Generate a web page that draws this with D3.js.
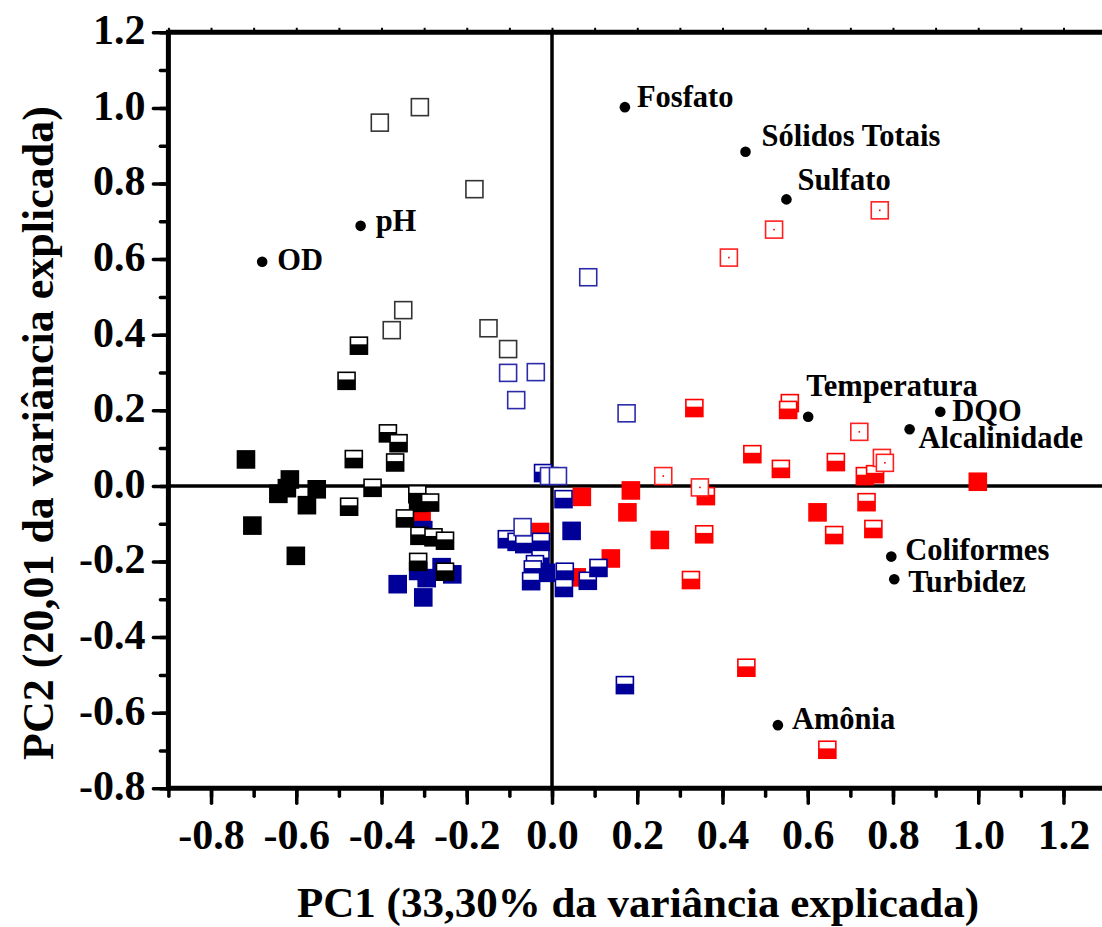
<!DOCTYPE html>
<html>
<head>
<meta charset="utf-8">
<script src="https://cdn.jsdelivr.net/npm/d3@7"></script>
<style>
  body { margin: 0; background: #fff; }
  text { font-family: "Liberation Serif", "Times New Roman", serif; font-weight: bold; fill: #000; }
</style>
</head>
<body>
<div id="chart"></div>
<script>
// tick values
const xMajor = [-0.8, -0.6, -0.4, -0.2, 0.0, 0.2, 0.4, 0.6, 0.8, 1.0, 1.2];
const yMajor = [-0.8, -0.6, -0.4, -0.2, 0.0, 0.2, 0.4, 0.6, 0.8, 1.0, 1.2];

// variable loadings
const variables = ["OD", "pH", "Fosfato", "Sólidos Totais", "Sulfato", "Temperatura",
                   "DQO", "Alcalinidade", "Coliformes", "Turbidez", "Amônia"];
const varPC1 = [-0.680, -0.449, 0.171, 0.454, 0.550, 0.601, 0.911, 0.839, 0.796, 0.803, 0.530];
const varPC2 = [0.593, 0.688, 1.002, 0.884, 0.758, 0.183, 0.196, 0.150, -0.187, -0.247, -0.633];

// sample scores [PC1, PC2]
const redFilled = [[-0.306, -0.072], [-0.028, -0.122], [0.058, -0.242], [0.070, -0.029], [0.185, -0.012],
  [0.177, -0.070], [0.253, -0.143], [0.138, -0.192], [0.623, -0.070], [0.999, 0.011]];
const redHalf = [[0.334, 0.206], [0.558, 0.219], [0.554, 0.201], [0.470, 0.084], [0.537, 0.045],
  [0.666, 0.063], [0.734, 0.026], [0.758, 0.031], [0.361, -0.027], [0.738, -0.043], [0.357, -0.128],
  [0.662, -0.130], [0.754, -0.114], [0.326, -0.249], [0.456, -0.481], [0.646, -0.698]];
const redOpen = [[0.415, 0.604], [0.521, 0.678], [0.769, 0.729], [0.261, 0.026], [0.347, -0.004],
  [0.721, 0.143], [0.774, 0.074], [0.781, 0.061]];
const blueFilled = [[-0.362, -0.260], [-0.302, -0.295], [-0.294, -0.244], [-0.314, -0.225], [-0.259, -0.215],
  [-0.234, -0.234], [-0.302, -0.117], [0.046, -0.119], [-0.014, -0.230]];
const blueHalf = [[-0.021, 0.034], [0.027, -0.035], [-0.106, -0.141], [-0.083, -0.148], [-0.065, -0.154],
  [-0.026, -0.148], [-0.027, -0.193], [-0.040, -0.207], [-0.045, -0.221], [-0.049, -0.252], [0.030, -0.227],
  [0.028, -0.270], [0.084, -0.251], [0.109, -0.217], [0.171, -0.527]];
const blueOpen = [[0.085, 0.552], [-0.103, 0.299], [-0.038, 0.301], [-0.084, 0.227], [0.175, 0.192],
  [-0.007, 0.026], [0.014, 0.026], [-0.069, -0.109]];
const blackFilled = [[-0.718, 0.070], [-0.615, 0.017], [-0.622, -0.006], [-0.642, -0.021], [-0.552, -0.009],
  [-0.575, -0.051], [-0.703, -0.105], [-0.601, -0.185], [-0.314, -0.045]];
const blackHalf = [[-0.453, 0.371], [-0.482, 0.278], [-0.385, 0.139], [-0.360, 0.113], [-0.465, 0.071],
  [-0.368, 0.062], [-0.421, -0.005], [-0.476, -0.055], [-0.316, -0.022], [-0.286, -0.044], [-0.345, -0.086],
  [-0.311, -0.132], [-0.278, -0.136], [-0.251, -0.145], [-0.314, -0.201], [-0.251, -0.227]];
const blackOpen = [[-0.310, 1.002], [-0.404, 0.961], [-0.182, 0.785], [-0.349, 0.465], [-0.376, 0.412],
  [-0.149, 0.417], [-0.103, 0.362]];

// where each variable label sits relative to its dot (px)
const labelNudge = {
  "OD": [15, 8], "pH": [15, 5], "Fosfato": [12, 0], "Sólidos Totais": [16, -6], "Sulfato": [11, -9],
  "Temperatura": [-2, -21], "DQO": [12, 9], "Alcalinidade": [9, 19], "Coliformes": [14, 3],
  "Turbidez": [14, 13], "Amônia": [14, 4]
};

const width = 1102, height = 927;
const svg = d3.select("#chart").append("svg")
  .attr("width", width).attr("height", height);

const x = d3.scaleLinear().domain([-0.9, 1.3]).range([168.4, 1106.1]);
const y = d3.scaleLinear().domain([-0.8, 1.2]).range([788.3, 32.3]);
const fmt = v => d3.format(".1f")(v).replace("−", "-");
const minorX = d3.range(-9, 14).map(i => i / 10);
const minorY = d3.range(-8, 13).map(i => i / 10);

// zero lines
svg.append("line").attr("x1", x(0)).attr("x2", x(0)).attr("y1", y(1.2)).attr("y2", y(-0.8))
  .attr("stroke", "#000").attr("stroke-width", 3.5);
svg.append("line").attr("x1", x(-0.9)).attr("x2", x(1.3)).attr("y1", y(0)).attr("y2", y(0))
  .attr("stroke", "#000").attr("stroke-width", 3.5);

// squares
const S = 17;
function drawSquares(pts, color, kind, edge) {
  const g = svg.append("g").selectAll("g").data(pts).join("g")
    .attr("transform", d => `translate(${x(d[0])},${y(d[1])})`);
  g.append("rect")
    .attr("x", -S / 2).attr("y", -S / 2).attr("width", S).attr("height", S)
    .attr("fill", kind === "filled" ? color : "#fff")
    .attr("stroke", edge || color).attr("stroke-width", 1.6);
  if (kind === "half") {
    g.append("rect")
      .attr("x", -S / 2).attr("y", -S / 2 + S * 0.42).attr("width", S).attr("height", S * 0.58)
      .attr("fill", color);
  }
  if (kind === "dot") {
    g.append("rect").attr("x", -0.8).attr("y", -0.8).attr("width", 1.6).attr("height", 1.6)
      .attr("fill", color);
  }
}
const red = "#ff0000", blue = "#000099", black = "#000";
drawSquares(redFilled, red, "filled");
drawSquares(redHalf, red, "half");
drawSquares(redOpen, red, "dot", "#ff2020");
drawSquares(blueFilled, blue, "filled");
drawSquares(blueHalf, blue, "half");
drawSquares(blueOpen, blue, "open", "#2b2baa");
drawSquares(blackFilled, black, "filled");
drawSquares(blackHalf, black, "half");
drawSquares(blackOpen, black, "open", "#333");

// variable dots + labels
const vars = variables.map((name, i) => ({ name, pc1: varPC1[i], pc2: varPC2[i] }));
svg.append("g").selectAll("circle").data(vars).join("circle")
  .attr("cx", d => x(d.pc1)).attr("cy", d => y(d.pc2)).attr("r", 5.3).attr("fill", "#000");
svg.append("g").selectAll("text").data(vars).join("text")
  .attr("x", d => x(d.pc1) + labelNudge[d.name][0])
  .attr("y", d => y(d.pc2) + labelNudge[d.name][1])
  .style("font-size", "30.5px")
  .text(d => d.name);

// axes
function styleAxis(g) {
  g.selectAll(".tick line").attr("stroke-width", 3.5).attr("stroke-linecap", "round");
  g.selectAll(".tick text").style("font-size", "42px").attr("fill", "#000");
}
const bottomAxis = svg.append("g").attr("transform", `translate(0,${y(-0.8)})`);
bottomAxis.append("g").call(d3.axisBottom(x).tickValues(minorX).tickSize(8).tickFormat(""))
  .call(g => g.select(".domain").remove()).call(styleAxis);
bottomAxis.append("g").call(d3.axisBottom(x).tickValues(xMajor).tickSize(15).tickPadding(16).tickFormat(fmt))
  .call(g => g.select(".domain").remove()).call(styleAxis);

const leftAxis = svg.append("g").attr("transform", `translate(${x(-0.9)},0)`);
leftAxis.append("g").call(d3.axisLeft(y).tickValues(minorY).tickSize(8).tickFormat(""))
  .call(g => g.select(".domain").remove()).call(styleAxis);
leftAxis.append("g").call(d3.axisLeft(y).tickValues(yMajor).tickSize(15).tickPadding(8).tickFormat(fmt))
  .call(g => g.select(".domain").remove()).call(styleAxis)
  .call(g => g.selectAll(".tick text").attr("dy", "0.27em"));

const topAxis = svg.append("g").attr("transform", `translate(0,${y(1.2)})`);
topAxis.append("g").call(d3.axisTop(x).tickValues(minorX).tickSize(4.5).tickFormat(""))
  .call(g => g.select(".domain").remove())
  .call(g => g.selectAll(".tick line").attr("stroke-width", 2));

// frame lines
svg.append("line").attr("x1", x(-0.9)).attr("x2", x(1.3)).attr("y1", y(-0.8)).attr("y2", y(-0.8))
  .attr("stroke", "#000").attr("stroke-width", 5);
svg.append("line").attr("x1", x(-0.9)).attr("x2", x(1.3)).attr("y1", y(1.2)).attr("y2", y(1.2))
  .attr("stroke", "#000").attr("stroke-width", 5);
svg.append("line").attr("x1", x(-0.9)).attr("x2", x(-0.9)).attr("y1", y(1.2) - 2.5).attr("y2", y(-0.8) + 2.5)
  .attr("stroke", "#000").attr("stroke-width", 5);

// axis titles
svg.append("text").attr("x", 638).attr("y", 917).attr("text-anchor", "middle")
  .style("font-size", "43px").text("PC1 (33,30% da variância explicada)");
svg.append("text").attr("transform", "translate(53,433) rotate(-90)").attr("text-anchor", "middle")
  .style("font-size", "44px").text("PC2 (20,01 da variância explicada)");
</script>
</body>
</html>
